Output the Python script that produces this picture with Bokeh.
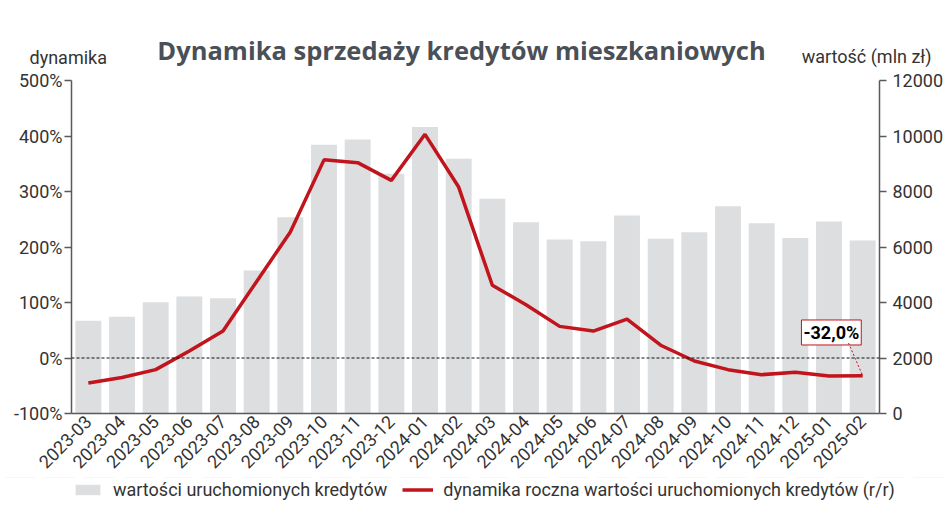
import math
from bokeh.plotting import figure
from bokeh.layouts import column
from bokeh.models import (Range1d, LinearAxis, FixedTicker, PrintfTickFormatter,
                          Span, Label, Legend, LegendItem, ColumnDataSource, FactorRange)
from bokeh.core.properties import value
from bokeh.embed import file_html
from bokeh.resources import INLINE

# ---------------- data ----------------
months = ["2023-03", "2023-04", "2023-05", "2023-06", "2023-07", "2023-08",
          "2023-09", "2023-10", "2023-11", "2023-12", "2024-01", "2024-02",
          "2024-03", "2024-04", "2024-05", "2024-06", "2024-07", "2024-08",
          "2024-09", "2024-10", "2024-11", "2024-12", "2025-01", "2025-02"]
loan_value = [3340, 3485, 4010, 4215, 4155, 5155, 7075, 9685, 9875, 8640, 10320, 9180,
              7735, 6895, 6270, 6210, 7135, 6295, 6535, 7470, 6860, 6320, 6920, 6235]
yoy_change = [-45.0, -35.0, -21.0, 12.6, 48.6, 138.0, 227.0, 357.0, 352.0, 320.0, 403.0, 308.0,
              131.0, 96.0, 57.0, 48.6, 70.0, 23.0, -5.4, -21.0, -30.0, -25.7, -32.4, -32.0]
left_ticks = [-100, 0, 100, 200, 300, 400, 500]
right_ticks = [0, 2000, 4000, 6000, 8000, 10000, 12000]
title_text = "Dynamika sprzedaży kredytów mieszkaniowych"
left_label = "dynamika"
right_label = "wartość (mln zł)"
bar_legend = "wartości uruchomionych kredytów"
line_legend = "dynamika roczna wartości uruchomionych kredytów (r/r)"
callout_month = "2025-02"
callout_value = -32.0
callout_text = "-32,0%"

# ---------------- style ----------------
FONT = "Roboto"
RED = "#c1141c"
BAR = "#dcdedf"
AXIS = "#5a5a5a"
TXT = "#333333"

src = ColumnDataSource(dict(month=months, value=loan_value, yoy=yoy_change))
x_range = FactorRange(*months)

p = figure(frame_width=808, frame_height=333,
           x_range=x_range, y_range=Range1d(-100, 500),
           output_backend="svg", toolbar_location=None,
           min_border_left=71, min_border_right=69, min_border_top=80, min_border_bottom=58)
p.frame_align = False
p.extra_y_ranges = {"right": Range1d(0, 12000)}
p.outline_line_color = None
p.xgrid.visible = False
p.ygrid.visible = False
p.background_fill_color = "white"
p.border_fill_color = "white"

bars = p.vbar(x="month", top="value", width=0.77, source=src, y_range_name="right",
              fill_color=BAR, line_color=None)
zero = Span(location=0, dimension="width", line_color="#111111", line_width=1, line_dash="3 2")
p.add_layout(zero)
line = p.line(x="month", y="yoy", source=src, line_color=RED, line_width=3.5)

# axes
yl = p.yaxis[0]
yl.ticker = FixedTicker(ticks=left_ticks)
yl.formatter = PrintfTickFormatter(format="%d%%")
yr = LinearAxis(y_range_name="right", ticker=FixedTicker(ticks=right_ticks))
p.add_layout(yr, "right")
for ax in (yl, yr):
    ax.axis_line_color = AXIS
    ax.axis_line_width = 1.5
    ax.major_tick_line_color = AXIS
    ax.major_tick_line_width = 1.5
    ax.major_tick_in = 0
    ax.major_tick_out = 7
    ax.minor_tick_line_color = None
    ax.major_label_text_font = FONT
    ax.major_label_text_font_size = "18px"
    ax.major_label_text_color = TXT
yl.major_label_standoff = 2
yr.major_label_standoff = 6

xa = p.xaxis[0]
xa.axis_line_color = AXIS
xa.axis_line_width = 1.5
xa.major_tick_line_color = None
xa.major_tick_in = 0
xa.major_tick_out = 0
xa.minor_tick_line_color = None
xa.major_label_orientation = math.pi / 4
xa.major_label_standoff = 5
xa.major_label_text_font = FONT
xa.major_label_text_font_size = "18px"
xa.major_label_text_color = TXT

# callout
cs = ColumnDataSource(dict(x=[(callout_month, -0.93)], y=[callout_value + 78], t=[callout_text]))
p.text(x="x", y="y", text="t", source=cs, text_font=value(FONT), text_font_style="bold",
       text_font_size="18px", text_color="black", text_align="center", text_baseline="middle",
       border_line_color=RED, border_line_width=1, background_fill_color="white", padding=2)
p.segment(x0=[(callout_month, -0.42)], y0=[callout_value + 59], x1=[callout_month], y1=[callout_value],
          line_color=RED, line_width=1, line_dash="2 2")

# titles (side panel labels)
p.add_layout(Label(x=390, y=30.5, x_units="screen", y_units="screen", text=title_text,
                   text_font="Open Sans", text_font_style="bold", text_font_size="25.5px",
                   text_color="#4a5057", text_align="center", text_baseline="alphabetic"), "above")
p.add_layout(Label(x=-42, y=-10.5, x_units="screen", y_units="screen", text=left_label,
                   text_font=FONT, text_font_size="18px", text_color=TXT,
                   text_align="left", text_baseline="alphabetic"), "above")
p.add_layout(Label(x=860, y=-30.5, x_units="screen", y_units="screen", text=right_label,
                   text_font=FONT, text_font_size="18px", text_color=TXT,
                   text_align="right", text_baseline="alphabetic"), "above")

# legend strip below the chart (same data, drawn outside its visible range)
lg = figure(width=948, height=50, x_range=x_range, y_range=Range1d(-1e6, -1e6 + 1),
            output_backend="svg", toolbar_location=None, x_axis_type=None, y_axis_type=None,
            min_border=0)
lg.frame_align = False
lg.outline_line_color = None
lg.xgrid.visible = False
lg.ygrid.visible = False
lg_bar = lg.vbar(x="month", top="value", width=0.77, source=src, fill_color=BAR, line_color=None)
lg_line = lg.line(x="month", y="yoy", source=src, line_color=RED, line_width=3.5)
legend = Legend(items=[LegendItem(label=bar_legend, renderers=[lg_bar]),
                       LegendItem(label=line_legend, renderers=[lg_line])],
                orientation="horizontal", location=(72, 27),
                border_line_color=None, background_fill_alpha=0,
                margin=0, padding=0, spacing=15, glyph_width=31, glyph_height=13,
                label_standoff=10, label_text_font=FONT, label_text_font_size="18px",
                label_text_color=TXT)
lg.add_layout(legend, "center")

page = column(p, lg, spacing=0)
open("out.html", "w").write(file_html(page, INLINE))
